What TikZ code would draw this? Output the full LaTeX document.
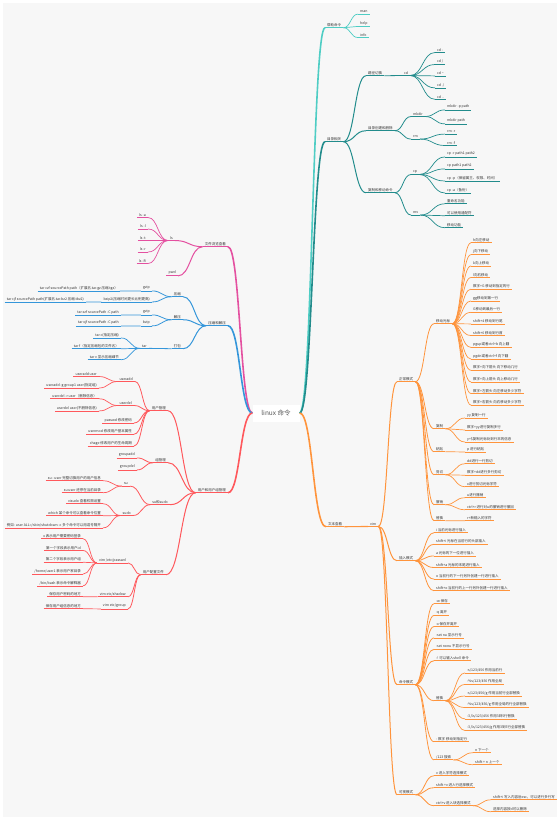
\documentclass[tikz,border=0pt]{standalone}
\usepackage{fontspec}
\newfontfamily\cjk{Noto Sans CJK SC}
\usetikzlibrary{calc}
\usepackage{xcolor}
\definecolor{bgc}{RGB}{247,247,247}
\definecolor{tealA}{RGB}{78,205,196}
\definecolor{tealB}{RGB}{34,140,140}
\definecolor{orng}{RGB}{255,148,60}
\definecolor{pnk}{RGB}{228,80,160}
\definecolor{blu}{RGB}{52,150,218}
\definecolor{rd}{RGB}{255,88,92}
\tikzset{
  tn/.style={font={\cjk\fontsize{3.5}{4}\selectfont}, text=black!80, inner xsep=2pt, inner ysep=0.9pt},
  rt/.style={tn, anchor=west},
  lt/.style={tn, anchor=east},
  ul/.style={append after command={(\tikzlastnode.south west) edge[line width=#1] (\tikzlastnode.south east)}},
  ul/.default=0.7pt,
  root/.style={fill=white, text=black!65, font={\cjk\fontsize{6.5}{8}\selectfont}, minimum width=47pt, minimum height=17pt, inner sep=0pt}
}
% curved link between two anchors
\newcommand{\lk}[3][0.7pt]{\draw[line width=#1] let \p1=(#2), \p2=(#3), \n1={(\x2-\x1)/2}, \n2={(\x1-\x2)/2} in (\p1) .. controls +(\n1,0) and +(\n2,0) .. (\p2);}

\begin{document}
\begin{tikzpicture}[x=1pt,y=-1pt]
  \fill[white] (0,0) rectangle (560,820);
  \fill[bgc] (3,3) rectangle (557,817);
  \useasboundingbox (0,0) rectangle (560,820);
  \node[root] (root) at (276,413) {linux 命令};

  % help
  \begin{scope}[color=tealA]
  \node[rt, ul=1.2pt] (help) at (325,25) {帮助命令};
  \lk[1.6pt]{root.east}{help.south west}
  \foreach \lab [count=\i] in {man, help, info} {
    \node[rt, ul] (hp\i) at (358, {0.5+11.5*\i}) {\lab};
    \lk{help.south east}{hp\i.south west}
  }
  \end{scope}

  % directories
  \begin{scope}[color=tealB]
  \node[rt, ul=1.2pt] (dir) at (325,139) {目录相关};
  \lk[1.6pt]{root.east}{dir.south west}
  \node[rt, ul=1pt] (cdsw) at (366,73) {路径切换};
  \node[rt, ul=1pt] (mkrm) at (366,128) {目录创建和删除};
  \node[rt, ul=1pt] (cpmv) at (366,190) {复制和移动命令};
  \foreach \nm in {cdsw, mkrm, cpmv} {\lk[1pt]{dir.south east}{\nm.south west}}
  \node[rt, ul=0.8pt] (cd) at (402,73) {cd};
  \lk[0.8pt]{cdsw.south east}{cd.south west}
  \foreach \lab [count=\i] in {cd -, cd /, cd \textasciitilde, cd ./, cd ..} {
    \node[rt, ul] (cd\i) at (435, {38.3+11.7*\i}) {\lab};
    \lk{cd.south east}{cd\i.south west}
  }
  \node[rt, ul=0.8pt] (mkdir) at (411,114) {mkdir};
  \node[rt, ul=0.8pt] (rm) at (411,137) {rm};
  \lk[0.8pt]{mkrm.south east}{mkdir.south west}
  \lk[0.8pt]{mkrm.south east}{rm.south west}
  \foreach \lab [count=\i] in {mkdir -p path, mkdir path} {
    \node[rt, ul] (mk\i) at (445, {93+14*\i}) {\lab};
    \lk{mkdir.south east}{mk\i.south west}
  }
  \foreach \lab [count=\i] in {rm -r, rm -f} {
    \node[rt, ul] (rm\i) at (445, {121+11*\i}) {\lab};
    \lk{rm.south east}{rm\i.south west}
  }
  \node[rt, ul=0.8pt] (cp) at (411,172) {cp};
  \node[rt, ul=0.8pt] (mv) at (411,213) {mv};
  \lk[0.8pt]{cpmv.south east}{cp.south west}
  \lk[0.8pt]{cpmv.south east}{mv.south west}
  \foreach \lab [count=\i] in {cp -r path1 path2, cp path1 path2, cp -p（保留属主、权限、时间）, cp -a（备份）} {
    \node[rt, ul] (cp\i) at (445, {142+12*\i}) {\lab};
    \lk{cp.south east}{cp\i.south west}
  }
  \foreach \lab [count=\i] in {重命名功能, 可以使用通配符, 移动功能} {
    \node[rt, ul] (mv\i) at (445, {189+12*\i}) {\lab};
    \lk{mv.south east}{mv\i.south west}
  }
  \end{scope}

  % vim
  \begin{scope}[color=orng]
  \node[rt, ul=1.2pt] (tv) at (326,524) {文本查看};
  \lk[1.6pt]{root.east}{tv.south west}
  \node[rt, ul=1.1pt] (vim) at (368,524) {vim};
  \lk[1.1pt]{tv.south east}{vim.south west}
  \node[rt, ul=1pt] (normal) at (397,379) {正常模式};
  \node[rt, ul=1pt] (insert) at (397,558) {插入模式};
  \node[rt, ul=1pt] (cmdm) at (397,682) {命令模式};
  \node[rt, ul=1pt] (visual) at (397,792) {可视模式};
  \foreach \nm in {normal, insert, cmdm, visual} {\lk[1pt]{vim.south east}{\nm.south west}}
  % normal mode
  \node[rt, ul=0.8pt] (move) at (434,321) {移动光标};
  \node[rt, ul=0.8pt] (copy) at (434,426) {复制};
  \node[rt, ul=0.8pt] (paste) at (434,449) {粘贴};
  \node[rt, ul=0.8pt] (cut) at (434,472) {剪切};
  \node[rt, ul=0.8pt] (undo) at (434,502) {撤销};
  \node[rt, ul=0.8pt] (rep) at (434,518) {替换};
  \foreach \nm in {move, copy, paste, cut, undo, rep} {\lk[0.8pt]{normal.south east}{\nm.south west}}
  \foreach \lab [count=\i] in {h向左移动, j向下移动, k向上移动, l向右移动, 数字+G 移动到指定的行, gg移动到第一行, G移动到最后一行, shift+4 移动到行尾, shift+6 移动到行首, pgup或者ctrl+b 向上翻, pgdn或者ctrl+f 向下翻, 数字+向下箭头 向下移动几行, 数字+向上箭头 向上移动几行, 数字+左箭头 向左移动多少字符, 数字+右箭头 向右移动多少字符} {
    \node[rt, ul] (mc\i) at (471, {228.4+11.6*\i}) {\lab};
    \lk{move.south east}{mc\i.south west}
  }
  \foreach \lab [count=\i] in {yy 复制一行, 数字+yy进行复制多行, y+\$复制光标处到行末的信息} {
    \node[rt, ul] (cy\i) at (465, {403+12*\i}) {\lab};
    \lk{copy.south east}{cy\i.south west}
  }
  \node[rt, ul] (ps1) at (465,449) {p 进行粘贴};
  \lk{paste.south east}{ps1.south west}
  \foreach \lab [count=\i] in {dd进行一行剪切, 数字+dd进行多行剪切, x进行剪切光标字符} {
    \node[rt, ul] (ct\i) at (465, {449.5+11.5*\i}) {\lab};
    \lk{cut.south east}{ct\i.south west}
  }
  \foreach \lab [count=\i] in {u进行撤销, ctrl+r 进行对u的撤销进行撤回} {
    \node[rt, ul] (ud\i) at (465, {483+12*\i}) {\lab};
    \lk{undo.south east}{ud\i.south west}
  }
  \node[rt, ul] (rp1) at (465,518) {r+新输入的字符};
  \lk{rep.south east}{rp1.south west}
  % insert mode
  \foreach \lab [count=\i] in {i 当前光标进行插入, shift+i 光标在当前行的头部插入, a 光标的下一位进行插入, shift+a 光标的末尾进行插入, o 当前行的下一行另外创建一行进行插入, shift+o 当前行的上一行另外创建一行进行插入} {
    \node[rt, ul=0.8pt] (in\i) at (434, {518.4+11.6*\i}) {\lab};
    \lk[0.8pt]{insert.south east}{in\i.south west}
  }
  % command mode
  \foreach \lab [count=\i] in {:w 保存, :q 离开, :x 保存并离开, :set nu 显示行号, :set nonu 不显示行号, :! 可以输入shell 命令} {
    \node[rt, ul=0.8pt] (cm\i) at (434, {589.6+11.4*\i}) {\lab};
    \lk[0.8pt]{cmdm.south east}{cm\i.south west}
  }
  \node[rt, ul=0.8pt] (crep) at (434,698) {替换};
  \node[rt, ul=0.8pt] (cnum) at (434,739) {: 数字 移动到指定行};
  \node[rt, ul=0.8pt] (srch) at (434,757) {/123 搜索};
  \foreach \nm in {crep, cnum, srch} {\lk[0.8pt]{cmdm.south east}{\nm.south west}}
  \foreach \lab [count=\i] in {:s/123/456 作用当前行, :\%s/123/456 作用全局, :s/123/456/g 作用当前行全部替换, :\%s/123/456/g 作用全局的行全部替换, {:3,5s/123/456 作用3到5行替换}, {:3,5s/123/456/g 作用3到5行全部替换}} {
    \node[rt, ul] (sr\i) at (465, {658.5+11.5*\i}) {\lab};
    \lk{crep.south east}{sr\i.south west}
  }
  \foreach \lab [count=\i] in {n 下一个, shift + n 上一个} {
    \node[rt, ul] (se\i) at (473, {738+12*\i}) {\lab};
    \lk{srch.south east}{se\i.south west}
  }
  % visual mode
  \node[rt, ul=0.8pt] (va) at (434,773) {v 进入字符选择模式};
  \node[rt, ul=0.8pt] (vb) at (434,785) {shift +v 进入行选择模式};
  \node[rt, ul=0.8pt] (vc) at (434,803) {ctrl+v 进入块选择模式};
  \foreach \nm in {va, vb, vc} {\lk[0.8pt]{visual.south east}{\nm.south west}}
  \foreach \lab [count=\i] in {shift+i 写入内容后esc，可以进行多行写, 选择内容按d可以删除} {
    \node[rt, ul] (vk\i) at (491, {785+12*\i}) {\lab};
    \lk{vc.south east}{vk\i.south west}
  }
  \end{scope}

  % browse
  \begin{scope}[color=pnk]
  \node[lt, ul=1.2pt] (fb) at (228,244) {文件浏览查看};
  \lk[1.6pt]{root.west}{fb.south east}
  \node[lt, ul=1pt] (ls) at (175,238) {ls};
  \node[lt, ul=1pt] (pwd) at (178,273) {pwd};
  \lk[1pt]{fb.south west}{ls.south east}
  \lk[1pt]{fb.south west}{pwd.south east}
  \foreach \lab [count=\i] in {ls -a, ls -l, ls -t, ls -r, ls -R} {
    \node[lt, ul] (ls\i) at (148, {203.5+11.5*\i}) {\lab};
    \lk{ls.south west}{ls\i.south east}
  }
  \end{scope}

  % archives
  \begin{scope}[color=blu]
  \node[lt, ul=1.2pt] (zip) at (228,323) {压缩和解压};
  \lk[1.6pt]{root.west}{zip.south east}
  \node[lt, ul=1pt] (cmp) at (183,294) {压缩};
  \node[lt, ul=1pt] (dec) at (183,317) {解压};
  \node[lt, ul=1pt] (pack) at (183,346) {打包};
  \foreach \nm in {cmp, dec, pack} {\lk[1pt]{zip.south west}{\nm.south east}}
  \node[lt, ul=0.8pt] (gza) at (152,288) {gzip};
  \node[lt, ul=0.8pt] (bza) at (152,299) {bzip2(压缩时间更长比例更高)};
  \node[lt, ul=0.8pt] (gzb) at (152,312) {gzip};
  \node[lt, ul=0.8pt] (bzb) at (152,323) {bzip};
  \node[lt, ul=0.8pt] (tar) at (149,346) {tar};
  \lk[0.8pt]{cmp.south west}{gza.south east}
  \lk[0.8pt]{cmp.south west}{bza.south east}
  \lk[0.8pt]{dec.south west}{gzb.south east}
  \lk[0.8pt]{dec.south west}{bzb.south east}
  \lk[0.8pt]{pack.south west}{tar.south east}
  \node[lt, ul] (gzal) at (120,288) {tar czf sourcePath path（扩展名.tar.gz 压缩.tgz）};
  \node[lt, ul] (bzal) at (86,299) {tar cjf sourcePath path(扩展名.tar.bz2 压缩.tbz2)};
  \node[lt, ul] (gzbl) at (121,312) {tar xzf sourcePath -C path};
  \node[lt, ul] (bzbl) at (121,323) {tar xjf sourcePath -C path};
  \lk{gza.south west}{gzal.south east}
  \lk{bza.south west}{bzal.south east}
  \lk{gzb.south west}{gzbl.south east}
  \lk{bzb.south west}{bzbl.south east}
  \foreach \lab [count=\i] in {tar c(指定压缩), tar f（指定压缩包的文件名）, tar v 显示压缩细节} {
    \node[lt, ul] (tr\i) at (121, {324+11*\i}) {\lab};
    \lk{tar.south west}{tr\i.south east}
  }
  \end{scope}

  % users
  \begin{scope}[color=rd]
  \node[lt, ul=1.2pt] (usr) at (228,490) {用户和用户组管理};
  \lk[1.6pt]{root.west}{usr.south east}
  \node[lt, ul=1pt] (um) at (168,408) {用户管理};
  \node[lt, ul=1pt] (gm) at (168,460) {组管理};
  \node[lt, ul=1pt] (sus) at (170,502) {su和sudo};
  \node[lt, ul=1pt] (cfg) at (166,572) {用户配置文件};
  \foreach \nm in {um, gm, sus, cfg} {\lk[1pt]{usr.south west}{\nm.south east}}
  % user management
  \node[lt, ul=0.8pt] (uadd) at (135,379) {useradd};
  \node[lt, ul=0.8pt] (udel) at (134,403) {userdel};
  \foreach \nm in {uadd, udel} {\lk[0.8pt]{um.south west}{\nm.south east}}
  \foreach \lab [count=\i] in {passwd 修改密码, usermod 修改用户基本属性, chage 修改用户的生命周期} {
    \node[lt, ul=0.8pt] (uo\i) at (134, {408.5+11.5*\i}) {\lab};
    \lk[0.8pt]{um.south west}{uo\i.south east}
  }
  \foreach \lab [count=\i] in {useradd user, useradd -g group1 user(指定组)} {
    \node[lt, ul] (ua\i) at (99, {363+11*\i}) {\lab};
    \lk{uadd.south west}{ua\i.south east}
  }
  \foreach \lab [count=\i] in {userdel -r user（删除信息）, userdel user(不删除信息)} {
    \node[lt, ul] (ud\i) at (99, {384+12*\i}) {\lab};
    \lk{udel.south west}{ud\i.south east}
  }
  % groups
  \foreach \lab [count=\i] in {groupadd, groupdel} {
    \node[lt, ul=0.8pt] (gp\i) at (137, {443+12*\i}) {\lab};
    \lk[0.8pt]{gm.south west}{gp\i.south east}
  }
  % su and sudo
  \node[lt, ul=0.8pt] (su) at (130,484) {su};
  \node[lt, ul=0.8pt] (sudo) at (133,513) {sudo};
  \lk[0.8pt]{sus.south west}{su.south east}
  \lk[0.8pt]{sus.south west}{sudo.south east}
  \foreach \lab [count=\i] in {su - user 完整切换用户的用户信息, su user 还停在当前目录} {
    \node[lt, ul] (su\i) at (103, {466+12*\i}) {\lab};
    \lk{su.south west}{su\i.south east}
  }
  \foreach \lab [count=\i] in {visudo 查看权限设置, which 某个命令可以查看命令位置, 例如: user ALL=/sbin/shutdown -c 多个命令可以用逗号隔开} {
    \node[lt, ul] (sd\i) at (103, {489+12*\i}) {\lab};
    \lk{sudo.south west}{sd\i.south east}
  }
  % config files
  \node[lt, ul=0.8pt] (pw) at (128,560) {vim /etc/passwd};
  \node[lt, ul=0.8pt] (sh) at (128,594) {vim etc/shadow};
  \node[lt, ul=0.8pt] (gr) at (128,606) {vim etc/group};
  \foreach \nm in {pw, sh, gr} {\lk[0.8pt]{cfg.south west}{\nm.south east}}
  \foreach \lab [count=\i] in {x 表示用户需要密码登录, 第一个字段表示用户id, 第二个字段表示用户组, /home/user1 表示用户家目录, /bin/bash 表示命令解释器} {
    \node[lt, ul] (pw\i) at (83, {524.25+11.75*\i}) {\lab};
    \lk{pw.south west}{pw\i.south east}
  }
  \node[lt, ul] (shl) at (83,594) {保存用户密码的地方};
  \node[lt, ul] (grl) at (83,606) {保存用户组信息的地方};
  \lk{sh.south west}{shl.south east}
  \lk{gr.south west}{grl.south east}
  \end{scope}
\end{tikzpicture}
\end{document}
